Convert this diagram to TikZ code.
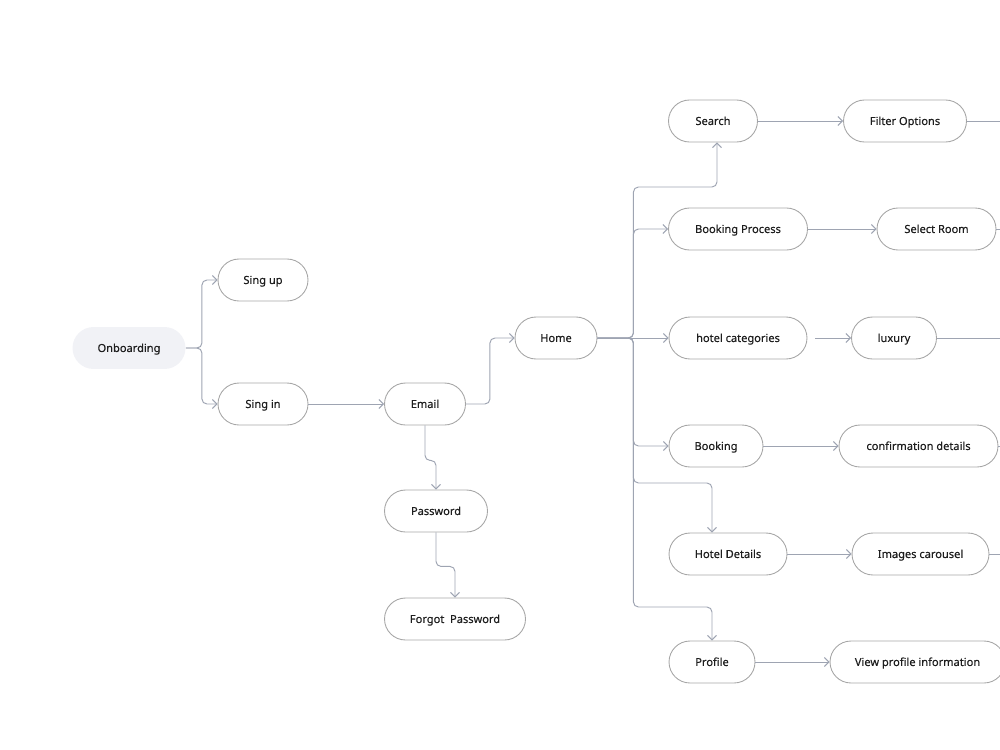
\documentclass[tikz,border=0pt]{standalone}
\usepackage{fontspec}
\setmainfont{Noto Sans}[BoldFont={*}, BoldFeatures={FakeBold=0.35}]
\usepackage{tikz}
\usetikzlibrary{arrows.meta}
\definecolor{trait}{HTML}{9EA4B2}
\definecolor{bord}{HTML}{A6A6A6}
\definecolor{fond}{HTML}{F1F2F6}
\definecolor{texte}{HTML}{1E1E1E}

\begin{document}
\begin{tikzpicture}[x=0.02cm, y=-0.02cm]
	% STYLES
	\tikzstyle{etape} = [draw=bord, line width=0.5pt, rounded corners=0.42cm, minimum height=0.84cm, inner sep=0pt, text height=4.5pt, text depth=0pt, text=texte, font=\fontsize{6.3}{8}\selectfont\bfseries]
	\tikzstyle{depart} = [etape, draw=none, fill=fond]
	\tikzstyle{lien} = [line width=0.55pt, draw=trait, rounded corners=0.1cm, -{Straight Barb[length=0.09cm, width=0.18cm]}]
	\tikzstyle{fil} = [line width=0.55pt, draw=trait]

	\useasboundingbox (0,0) rectangle (1000,750);
	\clip (0,0) rectangle (1000,750);

	% NOEUDS
	\node[depart, minimum width=2.26cm] at (129,348) (onb) {Onboarding};
	\node[etape, minimum width=1.8cm] at (263,280) (signup) {Sing up};
	\node[etape, minimum width=1.8cm] at (263,404) (signin) {Sing in};
	\node[etape, minimum width=1.62cm] at (425,404) (email) {Email};
	\node[etape, minimum width=2.06cm] at (436,511) (pass) {Password};
	\node[etape, minimum width=2.82cm] at (455,619) (forgot) {Forgot~ Password};
	\node[etape, minimum width=1.64cm] at (556,338) (home) {Home};

	\node[etape, minimum width=1.78cm] at (713,121) (search) {Search};
	\node[etape, minimum width=2.46cm] at (905,121) (filter) {Filter Options};
	\node[etape, minimum width=2.78cm] at (738,229) (bproc) {Booking Process};
	\node[etape, minimum width=2.38cm] at (936.5,229) (room) {Select Room};
	\node[etape, minimum width=2.76cm] at (738,338) (cat) {hotel categories};
	\node[etape, minimum width=1.7cm] at (894,338) (lux) {luxury};
	\node[etape, minimum width=1.88cm] at (716,446) (booking) {Booking};
	\node[etape, minimum width=3.18cm] at (918.5,446) (confirm) {confirmation details};
	\node[etape, minimum width=2.36cm] at (728,554) (details) {Hotel Details};
	\node[etape, minimum width=2.74cm] at (920.5,554) (carousel) {Images carousel};
	\node[etape, minimum width=1.72cm] at (712,662) (profile) {Profile};
	\node[etape, minimum width=3.5cm] at (917.5,662) (viewprof) {View profile information};

	% BORDS
	\coordinate (bordA) at (1000,121);
	\coordinate (bordB) at (1000,229);
	\coordinate (bordC) at (1000,338);
	\coordinate (bordD) at (1000,446);
	\coordinate (bordE) at (1000,554);

	% ONBOARDING
	\draw[lien] (onb.east) -- ++(16,0) |- (signup.west);
	\draw[lien] (onb.east) -- ++(16,0) |- (signin.west);
	\draw[lien] (signin) -- (email);
	\draw[lien] (email.east) -- ++(24,0) |- (home.west);
	\draw[lien] (email.south) -- ++(0,35) -| (pass.north);
	\draw[lien] (pass.south) -- ++(0,34) -| (forgot.north);

	% HOME
	\draw[lien] (home.east) -- ++(36,0) -- ++(0,-151) -| ([xshift=0.08cm]search.south);
	\draw[lien] (home.east) -- ++(36,0) |- (bproc.west);
	\draw[lien] (home.east) -- (cat.west);
	\draw[lien] (home.east) -- ++(36,0) |- (booking.west);
	\draw[lien] (home.east) -- ++(36,0) -- ++(0,145) -| ([xshift=-0.32cm]details.north);
	\draw[lien] (home.east) -- ++(36,0) -- ++(0,269) -| (profile.north);

	% SUITE
	\draw[lien] (search) -- (filter);
	\draw[lien] (bproc) -- (room);
	\draw[lien] ([xshift=0.16cm]cat.east) -- (lux.west);
	\draw[lien] (booking) -- (confirm);
	\draw[lien] (details) -- (carousel);
	\draw[lien] (profile) -- (viewprof);

	\draw[fil] (filter.east) -- (bordA);
	\draw[fil] (room.east) -- (bordB);
	\draw[fil] (lux.east) -- (bordC);
	\draw[fil] (confirm.east) -- (bordD);
	\draw[fil] (carousel.east) -- (bordE);
\end{tikzpicture}
\end{document}
